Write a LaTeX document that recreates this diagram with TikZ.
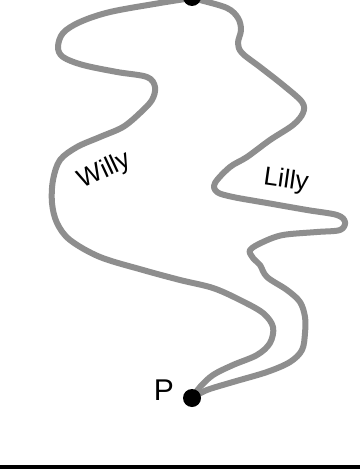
\documentclass[tikz,border=0pt]{standalone}
\usepackage{fontspec}
\setmainfont{Liberation Sans}
\definecolor{pathgray}{HTML}{8E8E8E}
\begin{document}
\begin{tikzpicture}[x=1pt,y=-1pt,
  route/.style={draw=pathgray,line width=6pt,line cap=round,line join=round},
  dot/.style={circle,fill=black,inner sep=0pt,minimum size=18pt},
  lbl/.style={font=\fontsize{26}{30}\selectfont,inner sep=0pt}]
\useasboundingbox (0,0) rectangle (360,473);
\fill[white] (0,0) rectangle (360,473);
% Willy's route
\draw[route] plot[smooth,tension=0.55] coordinates {
 (192,-2) (160,3) (110,12) (80,22) (63,33) (58,47) (63,57) (83,65) (117,72)
 (147,77) (155,87) (152,100) (140,113) (123,127) (100,137) (77,147) (60,160)
 (53,180) (52,203) (57,223) (70,240) (100,257) (143,270) (180,280) (213,288)
 (240,300) (263,313) (273,327) (270,343) (257,355) (233,365) (213,375)
 (200,387) (192,398)};
% Lilly's route
\draw[route] plot[smooth,tension=0.55] coordinates {
 (192,-2) (200,0) (227,8) (238,18) (241,30) (238,43) (242,53) (260,67)
 (283,85) (302,102) (303,113) (293,125) (270,140) (247,157) (230,167)
 (215,183) (217,192) (233,197) (267,203) (307,210) (337,215) (345,222)
 (340,230) (317,232) (283,235) (263,242) (250,250) (253,258) (260,265)
 (267,277) (287,290) (300,302) (305,317) (305,333) (302,350) (290,362)
 (267,372) (233,382) (207,390) (192,398)};
\node[dot] (top) at (192,-3) {};
\node[dot] (P) at (192,398) {};
\node[lbl,font=\fontsize{30}{34}\selectfont] (plabel) at (164,390) {P};
\node[lbl,rotate=25] (willy) at (105,171) {Willy};
\node[lbl,rotate=-8] (lilly) at (286,181) {Lilly};
\coordinate (gl) at (0,467);
\coordinate (gr) at (360,467);
\draw[line width=4pt] (gl) -- (gr);
\end{tikzpicture}
\end{document}
